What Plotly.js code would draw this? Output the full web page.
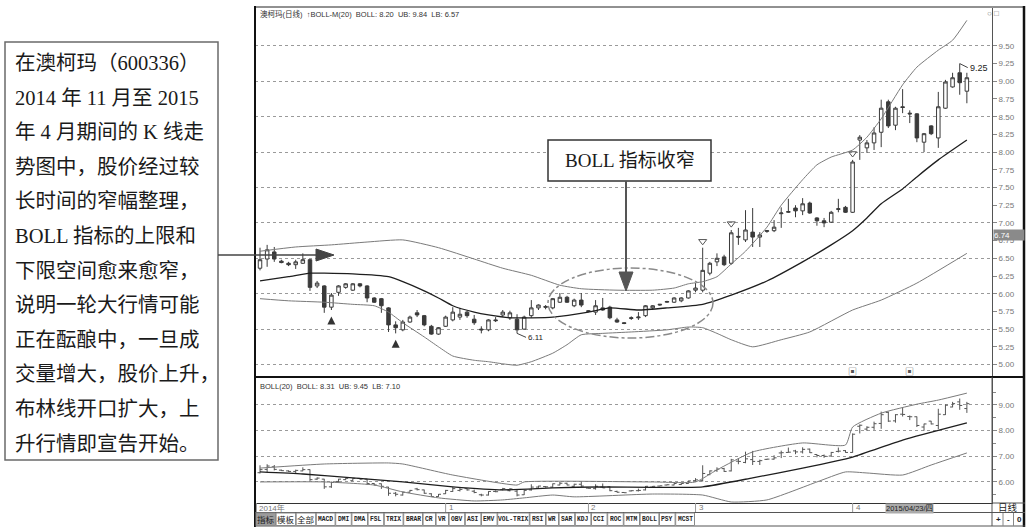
<!DOCTYPE html>
<html><head><meta charset="utf-8">
<script src="https://cdn.plot.ly/plotly-3.0.1.min.js"></script>
<style>html,body{margin:0;padding:0;background:#fff;} #chart{width:1030px;height:532px;}</style>
</head><body><div id="chart"></div>
<script>
// ---------------- DATA ----------------
const opens = [6.36,6.49,6.59,6.46,6.43,6.41,6.43,6.48,6.11,6.11,
5.81,6.02,6.09,6.05,6.14,6.11,5.94,5.93,5.80,5.56,
5.49,5.60,5.73,5.69,5.54,5.43,5.54,5.63,5.67,5.74,
5.64,5.50,5.49,5.63,5.70,5.66,5.64,5.50,5.69,5.80,
5.82,5.80,5.88,5.95,5.83,5.91,5.76,5.74,5.80,5.81,
5.63,5.59,5.65,5.66,5.69,5.80,5.84,5.88,5.88,5.90,
5.94,6.05,6.05,6.29,6.45,6.52,6.43,6.81,6.76,6.87,
6.80,6.88,6.89,7.13,7.15,7.21,7.17,7.28,7.07,7.03,
7.01,7.19,7.22,7.15,8.17,8.06,8.13,8.28,8.71,8.38,
8.64,8.55,8.54,8.14,8.37,8.20,8.62,8.92,9.12,8.86];
const highs = [6.65,6.69,6.66,6.48,6.45,6.48,6.57,6.49,6.18,6.12,
6.01,6.12,6.15,6.15,6.15,6.12,5.95,5.94,5.81,5.61,
5.63,5.69,5.77,5.70,5.56,5.53,5.69,5.81,5.80,5.76,
5.70,5.54,5.64,5.67,5.77,5.76,5.71,5.69,5.91,5.85,
5.84,5.94,6.01,5.97,5.93,6.01,5.77,5.91,5.94,5.83,
5.66,5.60,5.68,5.74,5.84,5.84,5.85,5.90,5.95,5.95,
6.05,6.15,6.65,6.45,6.57,6.55,6.90,6.93,7.18,7.21,
6.87,6.90,7.04,7.22,7.34,7.25,7.35,7.30,7.08,7.07,
7.17,7.34,7.24,7.89,8.24,8.17,8.35,8.74,8.74,8.64,
8.89,8.59,8.55,8.27,8.38,8.85,9.02,9.12,9.25,9.12];
const lows = [6.33,6.38,6.45,6.43,6.39,6.35,6.42,6.04,6.08,5.73,
5.77,5.97,6.07,6.04,6.09,5.88,5.87,5.73,5.46,5.44,
5.47,5.59,5.67,5.54,5.42,5.42,5.53,5.61,5.63,5.66,
5.56,5.44,5.47,5.60,5.67,5.63,5.44,5.49,5.66,5.77,
5.78,5.78,5.87,5.87,5.81,5.81,5.74,5.70,5.76,5.64,
5.59,5.57,5.63,5.63,5.67,5.77,5.83,5.87,5.87,5.88,
5.93,6.02,6.02,6.26,6.39,6.39,6.41,6.69,6.73,6.66,
6.66,6.86,6.87,6.93,7.14,7.08,7.11,7.13,6.96,6.94,
7.00,7.15,7.14,7.14,7.89,7.99,8.03,8.07,8.34,8.31,
8.55,8.41,8.14,8.00,8.24,8.06,8.61,8.91,8.81,8.69];
const closes = [6.48,6.62,6.49,6.44,6.41,6.45,6.48,6.09,6.15,5.81,
5.98,6.11,6.14,6.14,6.11,5.94,5.88,5.83,5.56,5.52,
5.60,5.67,5.70,5.56,5.43,5.52,5.67,5.74,5.71,5.69,
5.59,5.49,5.63,5.62,5.74,5.73,5.49,5.67,5.80,5.84,
5.81,5.93,5.95,5.88,5.91,5.84,5.75,5.83,5.77,5.66,
5.60,5.58,5.66,5.67,5.83,5.83,5.85,5.89,5.94,5.94,
6.04,6.08,6.33,6.43,6.50,6.41,6.86,6.80,6.90,6.80,
6.83,6.89,6.94,7.14,7.16,7.17,7.27,7.14,7.03,7.00,
7.15,7.20,7.15,7.86,8.21,8.13,8.27,8.62,8.37,8.62,
8.63,8.54,8.20,8.26,8.26,8.64,8.99,9.05,8.98,9.05];

// BOLL bands, main panel (sampled at candle indices)
const ubIdx = [0,5,10,15,20,25,30,34,38,42,45,50,55,58,60,62,64,66,68,71,73,76,78,80,83,85,87,90,92,95,97,99];
const ubVal = [6.60,6.66,6.69,6.73,6.76,6.65,6.49,6.36,6.26,6.12,6.07,6.05,6.05,6.08,6.14,6.17,6.24,6.42,6.60,6.94,7.25,7.61,7.82,7.93,8.03,8.21,8.47,8.95,9.20,9.44,9.58,9.86];
const mbIdx = [0,4,7,9,13,18,20,23,25,27,30,32,35,38,41,46,49,53,57,62,66,71,76,80,83,85,87,90,92,95,99];
const mbVal = [6.18,6.24,6.29,6.29,6.28,6.24,6.17,6.04,5.94,5.83,5.74,5.70,5.66,5.66,5.67,5.74,5.80,5.77,5.80,5.85,5.98,6.18,6.45,6.69,6.89,7.07,7.27,7.48,7.65,7.89,8.17];
const lbIdx = [0,4,9,13,16,18,20,23,25,27,30,32,34,36,38,41,43,45,48,52,57,60,62,64,66,69,73,77,83,87,92,99];
const lbVal = [5.93,5.90,5.88,5.85,5.83,5.74,5.59,5.39,5.25,5.12,5.06,5.04,5.01,4.99,5.04,5.16,5.28,5.42,5.44,5.46,5.49,5.53,5.52,5.44,5.35,5.25,5.35,5.46,5.77,5.91,6.15,6.57];

// BOLL bands, lower panel
const lubIdx = [0,9,18,20,27,36,37,55,61,64,69,76,82,83,87,92,95,99];
const lubVal = [6.54,6.70,6.74,6.70,6.27,5.88,6.00,6.00,6.00,6.47,7.17,7.52,7.44,8.14,8.68,9.03,9.19,9.46];
const lmbIdx = [0,6,13,20,27,34,41,48,55,62,69,76,83,90,99];
const lmbVal = [6.39,6.31,6.16,6.00,5.81,5.69,5.77,5.81,5.79,5.81,6.16,6.54,6.97,7.63,8.30];
const llbIdx = [0,9,16,20,25,30,34,37,41,44,55,62,66,71,78,82,85,90,94,99];
const llbVal = [6.00,6.00,5.88,5.61,5.38,5.26,5.30,5.38,5.49,5.42,5.53,5.49,5.22,5.30,6.00,6.39,6.35,6.27,6.66,7.13];

// axis ticks / labels
const priceTicks = [5.00,5.25,5.50,5.75,6.00,6.25,6.50,6.75,7.00,7.25,7.50,7.75,8.00,8.25,8.50,8.75,9.00,9.25,9.50];
const priceGrid = [5.0,5.5,6.0,6.5,7.0,7.5,8.0,8.5,9.0,9.5];
const lowerTicks = [6,7,8,9];
const lowerMinor = [5.5,6.5,7.5,8.5,9.5];
const monthTickIdx = [-0.5,26,46,61,83];
const monthTickText = ['2014年','1','2','3','4'];

// markers
const upArrowIdx = [10,19];
const downMarkIdx = [62,66,83];
const iconIdx = [83,91];

// texts
const headerMain = '澳柯玛(日线)  ↑BOLL-M(20)  BOLL: 8.20  UB: 9.84  LB: 6.57';
const headerLower = 'BOLL(20)  BOLL: 8.31  UB: 9.45  LB: 7.10';
const cursorPrice = 6.74;
const cursorDate = '2015/04/23/四';
const calloutText = 'BOLL 指标收窄';
const noteLines = ['在澳柯玛（600336）','2014 年 11 月至 2015','年 4 月期间的 K 线走','势图中，股价经过较','长时间的窄幅整理，','BOLL 指标的上限和','下限空间愈来愈窄，','说明一轮大行情可能','正在酝酿中，一旦成','交量增大，股价上升，','布林线开口扩大，上','升行情即宣告开始。'];
const tabs = ['指标','模板','全部','MACD','DMI','DMA','FSL','TRIX','BRAR','CR','VR','OBV','ASI','EMV','VOL-TRIX','RSI','WR','SAR','KDJ','CCI','ROC','MTM','BOLL','PSY','MCST'];

// ---------------- LAYOUT HELPERS ----------------
const W = 1030, H = 532;
const px = x => x / W;
const py = y => 1 - y / H;
const idx = opens.map((_, i) => i);
const XR = [-0.7, 102.52];
const YR = [4.838, 10.035];
const YR2 = [5.18, 10.05];
const SERIF = 'Liberation Serif, Noto Sans CJK SC, serif';
const SANS = 'Liberation Sans, Noto Sans CJK SC, sans-serif';

const line = (xs, ys, color, width, xa, ya) => ({
  type: 'scatter', mode: 'lines', x: xs, y: ys, xaxis: xa, yaxis: ya,
  line: {color: color, width: width, shape: 'spline', smoothing: 0.5}, hoverinfo: 'skip'
});

const traces = [
  {type: 'candlestick', x: idx, open: opens, high: highs, low: lows, close: closes,
   xaxis: 'x', yaxis: 'y', whiskerwidth: 0, hoverinfo: 'skip',
   increasing: {line: {color: '#3a3a3a', width: 1}, fillcolor: '#ffffff'},
   decreasing: {line: {color: '#3a3a3a', width: 1}, fillcolor: '#3a3a3a'}},
  line(ubIdx, ubVal, '#7a7a7a', 1, 'x', 'y3'),
  line(mbIdx, mbVal, '#1e1e1e', 1.3, 'x', 'y'),
  line(lbIdx, lbVal, '#7a7a7a', 1, 'x', 'y'),
  {type: 'ohlc', x: idx, open: opens, high: highs, low: lows, close: closes,
   xaxis: 'x2', yaxis: 'y2', tickwidth: 0.35, hoverinfo: 'skip',
   increasing: {line: {color: '#555', width: 1}}, decreasing: {line: {color: '#555', width: 1}}},
  line(lubIdx, lubVal, '#7a7a7a', 1, 'x2', 'y2'),
  line(lmbIdx, lmbVal, '#1e1e1e', 1.3, 'x2', 'y2'),
  line(llbIdx, llbVal, '#7a7a7a', 1, 'x2', 'y2'),
  {type: 'scatter', mode: 'markers', x: upArrowIdx, y: upArrowIdx.map(i => lows[i] - 0.09),
   xaxis: 'x', yaxis: 'y', marker: {symbol: 'arrow-up', size: 8, color: '#333'}, hoverinfo: 'skip'},
  {type: 'scatter', mode: 'markers', x: downMarkIdx, y: downMarkIdx.map(i => highs[i] + 0.09),
   xaxis: 'x', yaxis: 'y', marker: {symbol: 'triangle-down-open', size: 7, color: '#555', line: {width: 1}}, hoverinfo: 'skip'}
];

const shapes = [];
const annotations = [];
const seg = (x0, y0, x1, y1, color, width, dash) => shapes.push({type: 'line', xref: 'paper', yref: 'paper',
  x0: px(x0), y0: py(y0), x1: px(x1), y1: py(y1), line: {color: color, width: width, dash: dash || 'solid'}, layer: 'above'});
const poly = (pts, color) => shapes.push({type: 'path', xref: 'paper', yref: 'paper',
  path: 'M ' + pts.map(p => px(p[0]) + ',' + py(p[1])).join(' L ') + ' Z',
  fillcolor: color, line: {color: color, width: 1}, layer: 'above'});
const txt = (x, y, text, size, color, family, xanchor, extra) => annotations.push(Object.assign({
  xref: 'paper', yref: 'paper', x: px(x), y: py(y), text: text, showarrow: false,
  font: {size: size, color: color, family: family}, xanchor: xanchor || 'left', yanchor: 'middle'}, extra || {}));

// frame
seg(255, 7, 1025, 7, '#222', 1);
seg(255, 6, 255, 527, '#111', 2);
seg(1024, 6, 1024, 527, '#111', 2.5);
seg(255, 377, 1025, 377, '#111', 2);
seg(255, 512.5, 1025, 512.5, '#555', 1);
seg(255, 526, 1025, 526, '#555', 1);
seg(992, 377, 992, 526, '#555', 1);
seg(992, 503, 1025, 503, '#555', 1);

// month labels on the time strip
monthTickIdx.forEach((m, k) => {
  shapes.push({type: 'line', xref: 'x2', yref: 'paper', x0: m, x1: m, y0: py(512), y1: py(503),
    line: {color: '#999', width: 1}, layer: 'above'});
  annotations.push({xref: 'x2', yref: 'paper', x: m, y: py(507.5), xanchor: 'left', yanchor: 'middle', xshift: 1,
    text: monthTickText[k], showarrow: false, font: {size: 8, color: '#777', family: SANS}});
});

// left note box + connector arrow
shapes.push({type: 'rect', xref: 'paper', yref: 'paper', x0: px(5), x1: px(218), y0: py(460), y1: py(42),
  line: {color: '#6a6a6a', width: 1.5}, fillcolor: 'rgba(0,0,0,0)', layer: 'above'});
noteLines.forEach((t, k) => txt(13, 63 + k * 34.6, t, 20.5, '#1a1a1a', SERIF, 'left'));
seg(218, 255, 318, 255, '#444', 1.5);
poly([[316, 249], [334, 255], [316, 261]], '#444');

// callout
shapes.push({type: 'circle', xref: 'paper', yref: 'paper', x0: px(548), x1: px(713), y0: py(338), y1: py(268),
  line: {color: '#8a8a8a', width: 1.5, dash: 'dashdot'}, layer: 'above'});
shapes.push({type: 'rect', xref: 'paper', yref: 'paper', x0: px(548), x1: px(711), y0: py(181), y1: py(140),
  line: {color: '#333', width: 1.5}, fillcolor: '#ffffff', layer: 'above'});
txt(629.5, 161, calloutText, 19, '#1a1a1a', SERIF, 'center');
seg(626, 181, 626, 275, '#555', 2);
poly([[619, 272], [633, 272], [626, 291]], '#555');

// headers
txt(258, 14, headerMain, 7.5, '#333', SANS, 'left');
txt(258, 386, headerLower, 7.5, '#333', SANS, 'left');
txt(985, 14, '○ □', 8, '#777', SANS, 'left');

// cursor price box
annotations.push({xref: 'paper', yref: 'y', x: px(993), y: cursorPrice, xanchor: 'left', yanchor: 'bottom',
  text: cursorPrice.toFixed(2), showarrow: false, bgcolor: '#8a8a8a', width: 30, height: 10, borderpad: 0,
  align: 'left', font: {size: 8, color: '#fff', family: SANS}});

// high/low labels
annotations.push({xref: 'x', yref: 'y', x: 98, y: highs[98], text: '9.25', showarrow: true, arrowhead: 0,
  arrowwidth: 1, arrowcolor: '#444', ax: 8, ay: 4, xanchor: 'left', font: {size: 9, color: '#222', family: SANS}});
annotations.push({xref: 'x', yref: 'y', x: 36, y: lows[36], text: '6.11', showarrow: true, arrowhead: 0,
  arrowwidth: 1, arrowcolor: '#444', ax: 9, ay: 4, xanchor: 'left', font: {size: 8, color: '#222', family: SANS}});

// small icons at bottom of main panel
iconIdx.forEach(i => annotations.push({xref: 'x', yref: 'paper', x: i, y: py(372), yanchor: 'middle', text: '▣', showarrow: false,
  font: {size: 9, color: '#555', family: SANS}}));

// bottom strip
annotations.push({xref: 'paper', yref: 'paper', x: px(934), y: py(508), yanchor: 'middle', text: cursorDate, showarrow: false,
  bgcolor: '#ababab', borderpad: 0, font: {size: 7.5, color: '#222', family: SANS}});
txt(1008, 507.5, '日线', 9.5, '#222', SANS, 'center');
[['+', 998], ['-', 1008.5], ['0', 1019]].forEach((p, k) => {
  txt(p[1], 519, '<b>' + p[0] + '</b>', 8, '#222', SANS, 'center');
  if (k > 0) seg(p[1] - 5.5, 513, p[1] - 5.5, 526, '#888', 1);
});

// tab bar
let tx = 256;
tabs.forEach((t, k) => {
  const cjk = /[\u4e00-\u9fff]/.test(t);
  const w = cjk ? 19.5 : 3.2 * t.length + 6;
  shapes.push({type: 'rect', xref: 'paper', yref: 'paper', x0: px(tx), x1: px(tx + w), y0: py(525.5), y1: py(513),
    line: {color: '#8a8a8a', width: 1}, fillcolor: k === 0 ? '#9c9c9c' : '#ffffff', layer: 'above'});
  txt(tx + w / 2, 519.5, cjk ? t : '<b>' + t + '</b>', cjk ? 8.5 : 6.3, '#222', cjk ? SANS : 'Liberation Mono, monospace', 'center');
  tx += w + 0.6;
});

const layout = {
  width: W, height: H, autosize: false, margin: {l: 0, r: 0, t: 0, b: 0},
  paper_bgcolor: '#ffffff', plot_bgcolor: 'rgba(0,0,0,0)', showlegend: false,
  font: {family: SANS, size: 8, color: '#555'},
  xaxis: {domain: [px(255), px(992)], range: XR, anchor: 'y', showticklabels: false, showgrid: false,
    zeroline: false, showline: false, ticks: '', rangeslider: {visible: false}, fixedrange: true},
  xaxis2: {domain: [px(255), px(992)], range: XR, anchor: 'y2', showticklabels: false, ticks: '',
    showgrid: false, zeroline: false, showline: true,
    linecolor: '#333', linewidth: 1, rangeslider: {visible: false}, fixedrange: true},
  yaxis: {domain: [py(376), py(8)], range: YR, anchor: 'x', side: 'right', tickmode: 'array', tickvals: priceGrid,
    showticklabels: false, ticks: '', showgrid: true, gridcolor: '#9a9a9a', griddash: 'dot', gridwidth: 1,
    zeroline: false, showline: true, linecolor: '#555', linewidth: 1, fixedrange: true},
  yaxis3: {overlaying: 'y', anchor: 'x', side: 'right', range: YR, tickmode: 'array', tickvals: priceTicks,
    ticktext: priceTicks.map(v => v.toFixed(2)), ticks: 'outside', ticklen: 4, tickcolor: '#888',
    tickfont: {size: 8, color: '#777', family: SANS}, showgrid: false, zeroline: false, showline: false, fixedrange: true},
  yaxis2: {domain: [py(503), py(378)], range: YR2, anchor: 'x2', side: 'right', tickmode: 'array', tickvals: lowerTicks,
    ticktext: lowerTicks.map(v => v.toFixed(2)), ticks: 'outside', ticklen: 4, tickcolor: '#888',
    tickfont: {size: 8, color: '#777', family: SANS}, showgrid: true, gridcolor: '#9a9a9a', griddash: 'dot',
    zeroline: false, showline: true, linecolor: '#555', linewidth: 1, fixedrange: true,
    minor: {tickvals: lowerMinor, ticks: 'outside', ticklen: 3, tickcolor: '#888', showgrid: false}},
  shapes: shapes,
  annotations: annotations
};

Plotly.newPlot('chart', traces, layout, {staticPlot: true, displayModeBar: false});
</script></body></html>
